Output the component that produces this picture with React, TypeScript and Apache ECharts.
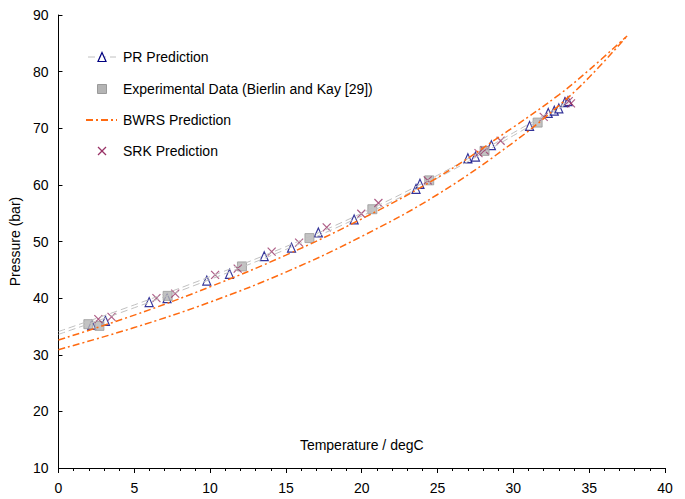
import React, { useEffect, useRef } from "react";
import * as echarts from "echarts";

// Experimental data (Bierlin and Kay) [T degC, P bar]
const experimental: [number, number][] = [
  [1.97, 35.4], [2.7, 35.1], [7.2, 40.4], [12.1, 45.6], [16.55, 50.6],
  [20.7, 55.7], [24.45, 60.8], [28.1, 66.0], [31.6, 71.0],
];

// PR predicted points
const prPoints: [number, number][] = [
  [2.2, 35.3], [3.1, 36.0], [5.98, 39.3], [7.16, 40.0], [9.78, 43.1], [11.28, 44.3],
  [13.57, 47.4], [15.37, 48.9], [17.14, 51.6], [19.5, 53.9], [23.58, 59.3], [23.84, 60.2],
  [27.0, 64.7], [27.5, 65.0], [28.55, 67.0], [31.07, 70.4], [32.3, 72.7], [32.7, 73.1],
  [33.0, 73.5], [33.4, 74.6], [33.6, 74.8],
];

// SRK predicted points
const srkPoints: [number, number][] = [
  [2.63, 36.3], [3.5, 36.7], [6.46, 40.0], [7.7, 40.8], [10.33, 44.1], [11.82, 45.2],
  [14.06, 48.2], [15.87, 49.8], [17.69, 52.5], [19.97, 54.9], [21.1, 56.8], [24.35, 60.8],
  [27.7, 65.6], [28.1, 66.1], [29.16, 67.8], [32.0, 72.0], [33.65, 74.8], [33.8, 74.4],
];

// PR predicted envelope (two branches)
const prUpper: [number, number][] = [
  [0, 34.1], [5, 38.8], [10, 43.8], [15, 49.1], [20, 55.0], [25, 61.7], [30, 69.2], [33.7, 74.9],
];
const prLower: [number, number][] = [
  [0, 33.6], [5, 38.3], [10, 43.3], [15, 48.6], [20, 54.5], [25, 61.2], [30, 68.7], [33.7, 74.6],
];

// BWRS predicted envelope (two branches)
const bwrsUpper: [number, number][] = [
  [0, 32.6], [5, 37.0], [10, 42.0], [15, 47.6], [20, 54.0], [25, 61.3], [30, 70.2], [33, 75.9], [35, 80.3], [37.5, 86.3],
];
const bwrsLower: [number, number][] = [
  [0, 30.9], [5, 34.8], [10, 39.3], [15, 44.6], [20, 50.9], [25, 58.3], [30, 67.5], [33, 74.0], [35, 79.0], [37.5, 86.3],
];

const legendNames = [
  "PR Prediction",
  "Experimental Data (Bierlin and Kay [29])",
  "BWRS Prediction",
  "SRK Prediction",
];

const FONT = "Liberation Sans";
const GRAY = "#c0c0c0";
const ORANGE = "#ff6a10";
const NAVY = "#000080";
const PLUM = "#993366";
const SQ_FILL = "#b4b4b4";
const SQ_BORDER = "#9a9a9a";
const GRAY_DASH = [7, 4];
const ORANGE_DASH = [7, 3, 2, 3];

function buildLegend() {
  const rowsY = [57, 89, 120, 151];
  const iconCx = 102;
  const textX = 123;
  const els: any[] = [];
  els.push({
    type: "line",
    shape: { x1: 88, y1: rowsY[0], x2: 116, y2: rowsY[0] },
    style: { stroke: GRAY, lineWidth: 1, lineDash: GRAY_DASH },
  });
  els.push({
    type: "polygon",
    shape: { points: [[iconCx, rowsY[0] - 4.5], [iconCx + 4, rowsY[0] + 4.5], [iconCx - 4, rowsY[0] + 4.5]] },
    style: { fill: "#fff", stroke: NAVY, lineWidth: 1.2 },
  });
  els.push({
    type: "rect",
    shape: { x: iconCx - 4.5, y: rowsY[1] - 4.5, width: 9, height: 9 },
    style: { fill: SQ_FILL, stroke: SQ_BORDER, lineWidth: 1 },
  });
  els.push({
    type: "line",
    shape: { x1: 86, y1: rowsY[2], x2: 117, y2: rowsY[2] },
    style: { stroke: ORANGE, lineWidth: 1.8, lineDash: ORANGE_DASH },
  });
  els.push({
    type: "line",
    shape: { x1: iconCx - 4, y1: rowsY[3] - 4, x2: iconCx + 4, y2: rowsY[3] + 4 },
    style: { stroke: PLUM, lineWidth: 1.2 },
  });
  els.push({
    type: "line",
    shape: { x1: iconCx + 4, y1: rowsY[3] - 4, x2: iconCx - 4, y2: rowsY[3] + 4 },
    style: { stroke: PLUM, lineWidth: 1.2 },
  });
  legendNames.forEach((name, i) => {
    els.push({
      type: "text",
      x: textX,
      y: rowsY[i],
      style: {
        text: name,
        fontFamily: FONT,
        fontSize: 14,
        fill: "#000",
        textVerticalAlign: "middle",
        verticalAlign: "middle",
      },
    });
  });
  return els;
}

export default function App() {
  const ref = useRef<HTMLDivElement>(null);
  useEffect(() => {
    if (!ref.current) return;
    const chart = echarts.init(ref.current, undefined, { renderer: "svg" });
    const grayLine = { color: GRAY, width: 1, type: GRAY_DASH };
    const orangeLine = { color: ORANGE, width: 1.5, type: ORANGE_DASH };
    chart.setOption({
      animation: false,
      backgroundColor: "#fff",
      textStyle: { fontFamily: FONT },
      grid: { left: 56, right: 20, top: 15, bottom: 31 },
      graphic: buildLegend(),
      xAxis: {
        type: "value",
        min: 0,
        max: 40,
        interval: 5,
        name: "Temperature / degC",
        nameLocation: "middle",
        nameGap: -30,
        nameTextStyle: { fontFamily: FONT, fontSize: 14, color: "#000" },
        axisLine: { lineStyle: { color: "#000", width: 1 } },
        axisTick: { inside: false, length: 5, lineStyle: { color: "#000" } },
        minorTick: { show: true, splitNumber: 5, length: 3, lineStyle: { color: "#000" } },
        axisLabel: { fontFamily: FONT, fontSize: 14, color: "#000", margin: 13 },
        splitLine: { show: false },
      },
      yAxis: {
        type: "value",
        min: 10,
        max: 90,
        interval: 10,
        name: "Pressure (bar)",
        nameLocation: "middle",
        nameGap: 31,
        nameTextStyle: { fontFamily: FONT, fontSize: 14, color: "#000" },
        axisLine: { show: true, lineStyle: { color: "#000", width: 1 } },
        axisTick: { show: true, inside: true, length: 4, lineStyle: { color: "#000" } },
        axisLabel: { fontFamily: FONT, fontSize: 14, color: "#000", margin: 10 },
        splitLine: { show: false },
      },
      series: [
        { name: "PR Prediction (upper)", type: "line", data: prUpper, smooth: 0.4, symbol: "none", lineStyle: grayLine, silent: true },
        { name: "PR Prediction (lower)", type: "line", data: prLower, smooth: 0.4, symbol: "none", lineStyle: grayLine, silent: true },
        { name: "BWRS Prediction (upper)", type: "line", data: bwrsUpper, smooth: 0.4, symbol: "none", lineStyle: orangeLine, silent: true },
        { name: "BWRS Prediction (lower)", type: "line", data: bwrsLower, smooth: 0.4, symbol: "none", lineStyle: orangeLine, silent: true },
        {
          name: legendNames[0],
          type: "scatter",
          data: prPoints,
          symbol: "triangle",
          symbolSize: [8, 9],
          itemStyle: { color: "#fff", borderColor: NAVY, borderWidth: 1.2 },
        },
        {
          name: legendNames[1],
          type: "scatter",
          data: experimental,
          symbol: "rect",
          symbolSize: 9,
          itemStyle: { color: SQ_FILL, borderColor: SQ_BORDER, borderWidth: 1 },
        },
        {
          name: legendNames[3],
          type: "scatter",
          data: srkPoints,
          symbol: "path://M0,0L10,10M10,0L0,10",
          symbolSize: 8,
          itemStyle: { color: "transparent", borderColor: PLUM, borderWidth: 1.2 },
        },
      ],
    });
    return () => chart.dispose();
  }, []);
  return (
    <div
      ref={ref}
      style={{ position: "fixed", left: 0, top: 0, width: 685, height: 499, background: "#fff" }}
    />
  );
}
